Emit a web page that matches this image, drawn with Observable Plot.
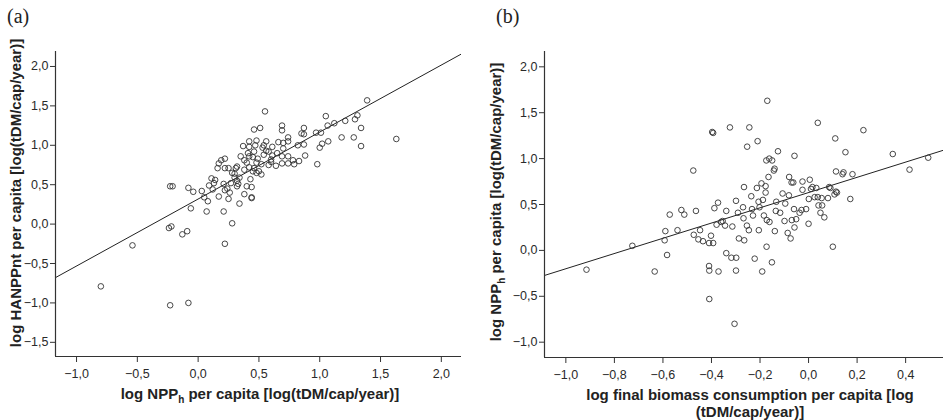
<!DOCTYPE html>
<html>
<head>
<meta charset="utf-8">
<script src="https://cdn.jsdelivr.net/npm/d3@7"></script>
<script src="https://cdn.jsdelivr.net/npm/@observablehq/plot@0.6"></script>
<style>
  html, body { margin: 0; padding: 0; background: #fff; }
  #wrap { position: relative; width: 943px; height: 420px; overflow: hidden; font-family: "Liberation Sans", Arial, sans-serif; }
  .panel { position: absolute; top: 0; }
  .tag { position: absolute; font-family: "Liberation Serif", "Times New Roman", serif; font-size: 20px; color: #222; line-height: 20px; }
  .lab { position: absolute; font-weight: bold; font-size: 15px; color: #222; white-space: nowrap; text-align: center; line-height: 17px; }
  .lab sub { font-size: 10px; vertical-align: -4px; line-height: 0; }
  .rot { transform: translate(-50%, -50%) rotate(-90deg); }
  .hor { transform: translate(-50%, -50%); }
</style>
</head>
<body>
<div id="wrap"></div>
<script>
// ---- Panel (a): log NPPh per capita (x) vs log HANPPnt per capita (y)
const aX = [1.39,0.55,1.05,1.31,1.29,1.21,1.12,1.065,1.34,0.87,0.69,0.69,0.51,0.46,0.97,1.01,0.85,0.87,1.18,1.28,0.74,1.63,0.74,1.07,1.02,1.00,1.34,0.82,0.87,0.70,0.66,0.56,0.48,0.42,0.37,0.42,0.47,0.54,0.61,0.70,0.58,0.46,0.35,0.42,0.54,0.61,0.69,0.74,0.88,0.83,0.78,0.79,0.74,0.69,0.64,0.58,0.52,0.48,0.40,0.38,0.49,0.60,0.98,0.19,0.22,0.17,0.16,0.22,0.25,0.31,0.32,0.30,0.38,0.42,0.48,0.52,0.28,0.34,0.43,0.11,0.14,0.13,0.09,0.21,0.27,0.33,0.40,0.44,0.32,0.24,0.22,0.12,0.03,-0.04,-0.08,-0.23,-0.21,0.05,0.08,0.17,0.26,0.38,0.44,0.44,0.25,0.34,-0.06,0.07,0.21,0.28,-0.24,-0.22,-0.09,-0.13,0.22,-0.54,-0.80,-0.23,-0.08,0.30,0.46,0.45,0.50,0.60,0.45,0.41,0.32,0.56,0.65,0.53];
const aY = [1.57,1.43,1.37,1.38,1.33,1.31,1.28,1.25,1.22,1.22,1.25,1.19,1.22,1.20,1.16,1.16,1.15,1.14,1.10,1.10,1.10,1.08,1.05,1.05,1.02,0.97,0.99,1.00,1.01,1.03,1.04,1.05,1.06,1.05,0.99,0.98,1.00,1.00,0.98,0.96,0.92,0.92,0.86,0.86,0.88,0.87,0.86,0.86,0.87,0.80,0.81,0.76,0.77,0.77,0.74,0.75,0.76,0.78,0.78,0.81,0.83,0.82,0.76,0.81,0.83,0.77,0.71,0.71,0.71,0.71,0.73,0.64,0.69,0.72,0.65,0.63,0.65,0.59,0.57,0.58,0.56,0.52,0.49,0.51,0.52,0.51,0.48,0.47,0.48,0.45,0.43,0.44,0.42,0.41,0.46,0.48,0.48,0.34,0.29,0.35,0.40,0.38,0.34,0.33,0.32,0.26,0.20,0.16,0.16,0.01,-0.05,-0.03,-0.09,-0.13,-0.25,-0.27,-0.79,-1.03,-1.00,0.59,0.71,0.67,0.67,0.79,0.85,0.90,0.55,0.93,0.90,0.97];
const aFit = [0.318, 0.85];           // intercept, slope
const aXDomain = [-1.173, 2.166];
const aYDomain = [-1.68, 2.19];
const aXTicks = [-1.0, -0.5, 0.0, 0.5, 1.0, 1.5, 2.0];
const aYTicks = [-1.5, -1.0, -0.5, 0.0, 0.5, 1.0, 1.5, 2.0];

// ---- Panel (b): log final biomass consumption per capita (x) vs log NPPh per capita (y)
const bX = [-0.915,-0.726,-0.634,-0.59,-0.593,-0.583,-0.572,-0.54,-0.524,-0.512,-0.475,-0.473,-0.464,-0.454,-0.447,-0.435,-0.41,-0.409,-0.409,-0.41,-0.402,-0.393,-0.397,-0.393,-0.388,-0.373,-0.379,-0.371,-0.36,-0.354,-0.344,-0.339,-0.339,-0.324,-0.318,-0.314,-0.299,-0.298,-0.299,-0.305,-0.287,-0.291,-0.27,-0.266,-0.265,-0.268,-0.254,-0.246,-0.253,-0.244,-0.236,-0.233,-0.229,-0.222,-0.21,-0.213,-0.206,-0.205,-0.202,-0.194,-0.191,-0.188,-0.184,-0.177,-0.177,-0.173,-0.17,-0.174,-0.162,-0.165,-0.172,-0.161,-0.15,-0.151,-0.143,-0.14,-0.139,-0.133,-0.135,-0.126,-0.117,-0.107,-0.099,-0.096,-0.086,-0.081,-0.08,-0.074,-0.07,-0.063,-0.069,-0.06,-0.058,-0.058,-0.051,-0.037,-0.029,-0.025,-0.025,-0.01,0.0,0.001,0.005,0.01,0.016,0.025,0.032,0.038,0.038,0.041,0.049,0.054,0.056,0.065,0.08,0.085,0.09,0.10,0.107,0.113,0.11,0.113,0.117,0.14,0.144,0.152,0.172,0.181,0.226,0.347,0.416,0.493];
const bY = [-0.21,0.05,-0.23,0.21,0.11,-0.05,0.39,0.22,0.44,0.39,0.87,0.17,0.43,0.12,0.22,0.10,-0.17,-0.22,-0.53,0.08,0.16,0.08,1.29,1.28,0.46,0.52,0.28,-0.23,0.31,0.32,0.27,0.43,-0.03,1.34,-0.08,0.26,0.54,-0.08,-0.22,-0.80,0.13,0.41,0.47,0.69,0.11,0.35,0.27,0.22,1.13,1.34,0.59,0.45,0.38,-0.09,1.19,0.68,0.53,0.22,0.47,0.73,-0.23,0.55,0.38,0.70,0.63,0.04,1.63,0.98,1.00,0.80,0.33,0.31,0.98,-0.13,0.87,0.89,0.21,0.53,0.43,1.08,0.41,0.62,0.32,0.51,0.19,0.60,0.80,0.13,0.74,0.74,0.33,0.45,1.03,0.25,0.34,0.41,0.44,0.75,0.66,0.45,0.29,0.56,0.77,0.67,0.69,0.58,0.68,1.39,0.58,0.49,0.41,0.57,0.49,0.36,0.57,0.69,0.68,0.04,0.61,0.64,1.22,0.86,0.63,0.83,0.85,1.07,0.56,0.83,1.31,1.05,0.88,1.01];
const bFit = [0.63, 0.83];            // intercept, slope
const bXDomain = [-1.088, 0.556];
const bYDomain = [-1.167, 2.167];
const bXTicks = [-1.0, -0.8, -0.6, -0.4, -0.2, 0.0, 0.2, 0.4];
const bYTicks = [-1.0, -0.5, 0.0, 0.5, 1.0, 1.5, 2.0];

const fmt = d => (d < -1e-9 ? "\u2212" : "") + Math.abs(d).toFixed(1).replace(".", ",");

function panel(xs, ys, fit, xDom, yDom, xTicks, yTicks, opts) {
  const pts = xs.map((x, i) => ({x, y: ys[i]}));
  const line = xDom.map(x => ({x, y: fit[0] + fit[1] * x}));
  return Plot.plot({
    width: opts.width, height: 420,
    marginLeft: opts.ml, marginRight: opts.mr, marginTop: 51, marginBottom: opts.mb,
    x: {domain: xDom}, y: {domain: yDom},
    style: {fontFamily: "'Liberation Sans', Arial, sans-serif", fontSize: "12.5px", color: "#2a2a2a", background: "white"},
    marks: [
      Plot.line(line, {x: "x", y: "y", stroke: "#222", strokeWidth: 1, clip: true}),
      Plot.dot(pts, {x: "x", y: "y", r: 2.8, stroke: "#333", strokeWidth: 0.9, fill: "none"}),
      Plot.ruleX([xDom[0]], {stroke: "#333", strokeWidth: 1.2}),
      Plot.ruleY([yDom[0]], {stroke: "#333", strokeWidth: 1.2}),
      Plot.axisX({ticks: xTicks, tickFormat: fmt, tickSize: 6, tickPadding: 7, label: null, stroke: "#333"}),
      Plot.axisY({ticks: yTicks, tickFormat: fmt, tickSize: 5, tickPadding: 2, label: null, stroke: "#333"})
    ]
  });
}

const wrap = document.getElementById("wrap");
const pa = panel(aX, aY, aFit, aXDomain, aYDomain, aXTicks, aYTicks, {width: 471, ml: 55, mr: 10, mb: 64});
pa.classList.add("panel"); pa.style.left = "0px";
wrap.appendChild(pa);
const pb = panel(bX, bY, bFit, bXDomain, bYDomain, bXTicks, bYTicks, {width: 472, ml: 73, mr: 0, mb: 63});
pb.classList.add("panel"); pb.style.left = "471px";
wrap.appendChild(pb);

function addLabel(html, cls, x, y) {
  const d = document.createElement("div");
  d.className = cls; d.innerHTML = html;
  d.style.left = x + "px"; d.style.top = y + "px";
  wrap.appendChild(d);
}
addLabel("(a)", "tag", 7, 6);
addLabel("(b)", "tag", 496, 6);
addLabel("log NPP<sub>h</sub> per capita [log(tDM/cap/year)]", "lab hor", 260, 393);
addLabel("log HANPPnt per capita [log(tDM/cap/year)]", "lab rot", 15, 193);
addLabel("log final biomass consumption per capita [log<br>(tDM/cap/year)]", "lab hor", 750, 403);
addLabel("log NPP<sub>h</sub> per capita [log(tDM/cap/year)]", "lab rot", 495, 202);
</script>
</body>
</html>
